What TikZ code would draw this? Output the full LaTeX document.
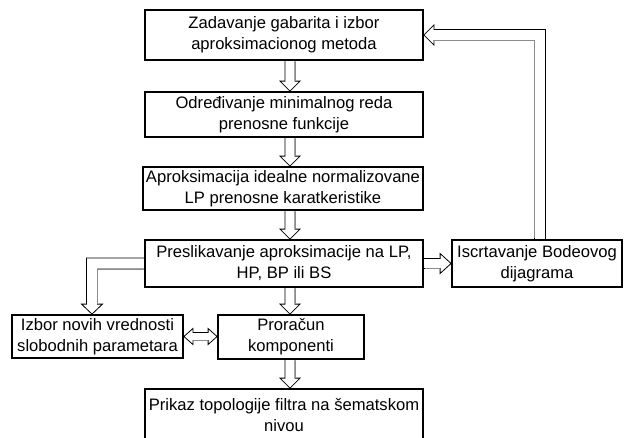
\documentclass[tikz,border=0pt]{standalone}
\usepackage{fontspec}
\setmainfont{Liberation Sans}
\usetikzlibrary{calc}
\tikzset{
  box/.style={draw, line width=1.8pt, fill=white, align=center, inner sep=0pt,
    font=\fontsize{16.6}{21}\selectfont},
  blk/.style={draw=black, line width=0.8pt, line join=miter},
  blkshade/.style={draw=black!45, line width=0.9pt},
}
\newcommand\dnblk[3]{%
  \draw[blk] let \p1=(#2.south), \p2=(#3.north) in
    (#1-5,\y1) -- (#1-5,\y2+10) -- (#1-10,\y2+10) -- (#1,\y2) -- (#1+10,\y2+10) -- (#1+5,\y2+10) -- (#1+5,\y1);
  \draw[blkshade] let \p1=(#2.south), \p2=(#3.north) in
    (#1+5,\y1-0.9) -- (#1+5,\y2+10.5);
}
\begin{document}
\begin{tikzpicture}[x=1pt,y=1pt]
\useasboundingbox (0,0) rectangle (627,-437);
\clip (0,0) rectangle (627,-437);
\fill[white] (0,0) rectangle (627,-437);

\node[box, minimum width=278, minimum height=50] (b1) at (284,-35) {Zadavanje gabarita i izbor\\aproksimacionog metoda};
\node[box, minimum width=278, minimum height=45] (b2) at (284,-114.5) {Određivanje minimalnog reda\\prenosne funkcije};
\node[box, minimum width=280, minimum height=43] (b3) at (283,-188.5) {Aproksimacija idealne normalizovane\\LP prenosne karatkeristike};
\node[box, minimum width=278, minimum height=47] (b4) at (284,-263.5) {Preslikavanje aproksimacije na LP,\\HP, BP ili BS};
\node[box, minimum width=170, minimum height=47] (b5) at (537,-263.5) {Iscrtavanje Bodeovog\\dijagrama};
\node[box, minimum width=171, minimum height=43] (b6) at (97.5,-336.5) {Izbor novih vrednosti\\slobodnih parametara};
\node[box, minimum width=146, minimum height=44] (b7) at (291,-337) {Proračun\\komponenti};
\node[box, minimum width=278, minimum height=52] (b8) at (284,-415) {Prikaz topologije filtra na šematskom\\nivou};

\dnblk{290}{b1}{b2}
\dnblk{290}{b2}{b3}
\dnblk{290}{b3}{b4}
\dnblk{290}{b4}{b7}
\dnblk{290}{b7}{b8}

% b4 -> b5
\draw[blk] let \p1=(b4.east), \p2=(b5.west) in
  (\x1,\y1+5) -- (\x2-11,\y1+5) -- (\x2-11,\y1+10) -- (\x2,\y1) -- (\x2-11,\y1-10) -- (\x2-11,\y1-5) -- (\x1,\y1-5);
\draw[blkshade] let \p1=(b4.east), \p2=(b5.west) in
  (\x1+0.9,\y1-5) -- (\x2-11.5,\y1-5);

% feedback b5 -> b1
\draw[blk] let \p1=(b5.north), \p2=(b1.east) in
  (\x1+8.5,\y1) -- (\x1+8.5,\y2+5.5) -- (\x2+10,\y2+5.5) -- (\x2+10,\y2+10) -- (\x2,\y2) -- (\x2+10,\y2-10) -- (\x2+10,\y2-5.5) -- (\x1-2.5,\y2-5.5) -- (\x1-2.5,\y1);
\draw[blkshade] let \p1=(b5.north), \p2=(b1.east) in
  (\x1-2.5,\y1+0.9) -- (\x1-2.5,\y2-5.5) -- (\x2+10.5,\y2-5.5);

% b4 -> b6
\draw[blk] let \p1=(b4.west), \p2=(b6.north) in
  (\x1,\y1+5.5) -- (\x2-11,\y1+5.5) -- (\x2-11,\y2+10) -- (\x2-16,\y2+10) -- (\x2-5.5,\y2) -- (\x2+5,\y2+10) -- (\x2,\y2+10) -- (\x2,\y1-5.5) -- (\x1,\y1-5.5);
\draw[blkshade] let \p1=(b4.west), \p2=(b6.north) in
  (\x2,\y2+10.5) -- (\x2,\y1-5.5) -- (\x1-0.9,\y1-5.5);

% b6 <-> b7
\draw[blk] let \p1=(b6.east), \p2=(b7.west) in
  (\x1,\y1) -- (\x1+9,\y1+8) -- (\x1+9,\y1+4) -- (\x2-9,\y1+4) -- (\x2-9,\y1+8) -- (\x2,\y1) -- (\x2-9,\y1-8) -- (\x2-9,\y1-4) -- (\x1+9,\y1-4) -- (\x1+9,\y1-8) -- cycle;
\draw[blkshade] let \p1=(b6.east), \p2=(b7.west) in
  (\x1+9.4,\y1-4) -- (\x2-9.4,\y1-4);
\end{tikzpicture}
\end{document}
